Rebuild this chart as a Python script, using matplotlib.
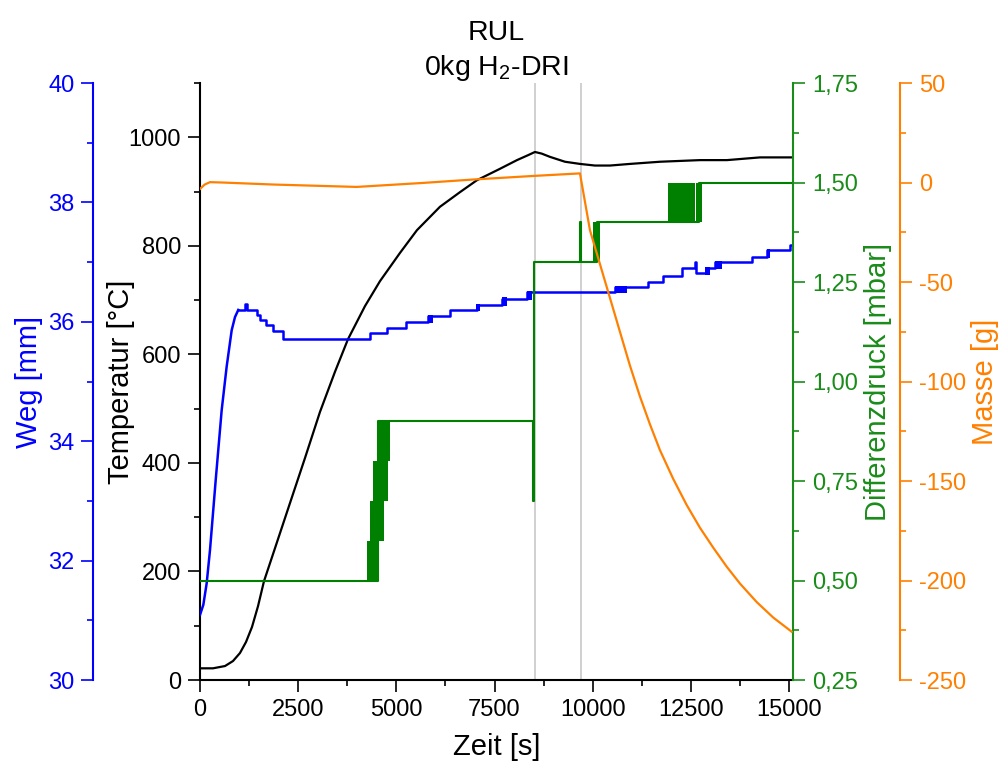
import matplotlib
matplotlib.use('Agg')
import matplotlib.pyplot as plt
import matplotlib.ticker as ticker

plt.rcParams['font.family'] = ['Liberation Sans', 'DejaVu Sans']
plt.rcParams['mathtext.fontset'] = 'custom'
plt.rcParams['mathtext.rm'] = 'Liberation Sans'
plt.rcParams['mathtext.default'] = 'regular'
plt.rcParams['axes.unicode_minus'] = False

# Temperatur (schwarz)
temp_t = [0, 331, 637, 840, 1018, 1171, 1324, 1477, 1629, 1910, 2291, 2673, 3055, 3437,
          3768, 4201, 4583, 5092, 5525, 6110, 6620, 7052, 7638, 8071, 8350, 8529, 8700, 8911, 9293,
          9675, 10057, 10439, 10948, 11712, 12730, 13417, 14258, 15098]
temp_val = [21.6, 21.6, 25.8, 35, 49.8, 70, 97.7, 136, 182, 243, 326, 409, 494, 568,
            628, 689, 735, 787, 829, 872, 899, 921, 942, 958, 967, 973, 970, 964, 955,
            951, 948, 948, 951, 955, 958, 958, 963, 963]

# Weg (blau) - Anstieg und Stufen
weg_rise_t = [0, 85, 170, 255, 400, 552, 679, 807, 891, 975]
weg_rise = [31.09, 31.26, 31.62, 32.18, 33.35, 34.52, 35.25, 35.86, 36.08, 36.2]
weg_step_t = [975, 1140, 1200, 1444, 1527, 1680, 1850, 2105, 4330, 4770, 5245, 5815, 6365,
              7045, 7680, 8317, 10566, 11415, 11797, 12263, 12603, 12620, 12883, 13112,
              14046, 14428, 15020, 15100]
weg_step = [36.2, 36.3, 36.2, 36.12, 36.03, 35.94, 35.84, 35.71, 35.81, 35.89, 36.0, 36.1, 36.2,
            36.28, 36.39, 36.5, 36.58, 36.67, 36.76, 36.9, 37.0, 36.81, 36.9, 37.0,
            37.09, 37.2, 37.29, 37.29]
# schnelle Wechsel zwischen zwei Stufen
weg_band_t0 = [5815, 7027, 7681, 8317, 10566, 12857, 13112, 14428]
weg_band_t1 = [5942, 7129, 7808, 8445, 10863, 12985, 13282, 14512]
weg_band_lo = [36.0, 36.2, 36.28, 36.39, 36.5, 36.81, 36.9, 37.09]
weg_band_hi = [36.1, 36.28, 36.39, 36.5, 36.58, 36.9, 37.0, 37.2]

# Differenzdruck (gruen)
dp_t = [0, 4530, 8485, 8492, 9675, 9690, 10100, 12700, 15100]
dp_val = [0.50, 0.90, 0.70, 1.30, 1.40, 1.30, 1.40, 1.50, 1.50]
dp_band_t0 = [4245, 4330, 4410, 4530, 10015, 11920, 12640]
dp_band_t1 = [4565, 4695, 4785, 4850, 10185, 12600, 12770]
dp_band_lo = [0.5, 0.6, 0.7, 0.8, 1.3, 1.4, 1.4]
dp_band_hi = [0.6, 0.7, 0.8, 0.9, 1.4, 1.5, 1.5]

# Masse (orange)
masse_t = [0, 120, 255, 590, 1870, 3990, 5670, 6940, 8470, 9675, 9930, 10184, 10439, 10693,
           10948, 11202, 11457, 11712, 12051, 12391, 12731, 13069, 13410, 13748, 14174,
           14596, 15065]
masse_val = [-3.2, -1.0, 0.2, 0.0, -1.0, -2.2, -0.2, 1.5, 3.3, 4.6, -24, -41, -58, -75,
             -92, -107.5, -121.5, -134.5, -149, -162, -173.5, -183.5, -193, -201.5, -210.8,
             -218.6, -225.7]

marker_t = [8530, 9700]

c_blue = '#0000FF'
c_green = '#008000'
c_lgreen = '#1a8c1a'
c_orange = '#FF8000'

fig = plt.figure(figsize=(10.06, 7.74), dpi=100)
ax = fig.add_axes([0.1988, 0.1214, 0.5895, 0.7713])

for t in marker_t:
    ax.axvline(t, color='#c8c8c8', lw=1.2, zorder=0)
ax.plot(temp_t, temp_val, color='black', lw=1.6)
ax.set_xlim(0, 15100)
ax.set_ylim(0, 1100)
ax.set_xticks(range(0, 15001, 2500))
ax.xaxis.set_minor_locator(ticker.MultipleLocator(1250))
ax.yaxis.set_major_locator(ticker.MultipleLocator(200))
ax.yaxis.set_minor_locator(ticker.MultipleLocator(100))
ax.spines['top'].set_visible(False)
ax.spines['right'].set_visible(False)
for s in ['left', 'bottom']:
    ax.spines[s].set_linewidth(1.5)
ax.tick_params(which='major', direction='out', length=8.5, width=1.2, labelsize=17, pad=5)
ax.tick_params(which='minor', direction='out', length=4.5, width=1.2)
ax.set_xlabel('Zeit [s]', fontsize=21)
ax.xaxis.set_label_coords(0.5, -0.088)
ax.set_ylabel('Temperatur [°C]', fontsize=21)
ax.yaxis.set_label_coords(-0.11, 0.5)
ax.set_title('RUL\n0kg H$_2$-DRI', fontsize=20.5, pad=4, linespacing=1.3)

# Weg
ax2 = ax.twinx()
ax2.plot(weg_rise_t, weg_rise, color=c_blue, lw=1.8)
ax2.plot(weg_step_t, weg_step, color=c_blue, lw=1.8, drawstyle='steps-post')
for t0, t1, lo, hi in zip(weg_band_t0, weg_band_t1, weg_band_lo, weg_band_hi):
    ax2.fill_between([t0, t1], lo - 0.02, hi + 0.02, color=c_blue, lw=0)
ax2.set_ylim(30, 40)
ax2.yaxis.set_major_locator(ticker.MultipleLocator(2))
ax2.yaxis.set_minor_locator(ticker.MultipleLocator(1))
ax2.yaxis.set_label_position('left')
ax2.yaxis.set_ticks_position('left')
for s in ['top', 'right', 'bottom']:
    ax2.spines[s].set_visible(False)
ax2.spines['left'].set_position(('axes', -0.18))
ax2.spines['left'].set_color(c_blue)
ax2.spines['left'].set_linewidth(1.5)
ax2.tick_params(which='major', direction='out', length=8.5, width=1.2, labelsize=17,
                colors=c_blue, pad=5)
ax2.tick_params(which='minor', direction='out', length=4.5, width=1.2, colors=c_blue)
ax2.set_ylabel('Weg [mm]', fontsize=21, color=c_blue)
ax2.yaxis.set_label_coords(-0.265, 0.5)

# Differenzdruck
ax3 = ax.twinx()
ax3.plot(dp_t, dp_val, color=c_green, lw=1.5, drawstyle='steps-post')
for t0, t1, lo, hi in zip(dp_band_t0, dp_band_t1, dp_band_lo, dp_band_hi):
    ax3.fill_between([t0, t1], lo, hi, color=c_green, lw=0)
ax3.set_ylim(0.25, 1.75)
ax3.yaxis.set_major_locator(ticker.MultipleLocator(0.25))
ax3.yaxis.set_minor_locator(ticker.MultipleLocator(0.125))
ax3.yaxis.set_major_formatter(ticker.FuncFormatter(lambda v, p: f'{v:.2f}'.replace('.', ',')))
for s in ['top', 'left', 'bottom']:
    ax3.spines[s].set_visible(False)
ax3.spines['right'].set_color(c_lgreen)
ax3.spines['right'].set_linewidth(1.5)
ax3.tick_params(which='major', direction='out', length=8.5, width=1.2, labelsize=17,
                colors=c_lgreen, pad=5)
ax3.tick_params(which='minor', direction='out', length=4.5, width=1.2, colors=c_lgreen)
ax3.set_ylabel('Differenzdruck [mbar]', fontsize=21, color=c_lgreen)
ax3.yaxis.set_label_coords(1.12, 0.5)

# Masse
ax4 = ax.twinx()
ax4.plot(masse_t, masse_val, color=c_orange, lw=1.6)
ax4.set_ylim(-250, 50)
ax4.yaxis.set_major_locator(ticker.MultipleLocator(50))
ax4.yaxis.set_minor_locator(ticker.MultipleLocator(25))
for s in ['top', 'left', 'bottom']:
    ax4.spines[s].set_visible(False)
ax4.spines['right'].set_position(('axes', 1.1804))
ax4.spines['right'].set_color(c_orange)
ax4.spines['right'].set_linewidth(1.5)
ax4.tick_params(which='major', direction='out', length=8.5, width=1.2, labelsize=17,
                colors=c_orange, pad=5)
ax4.tick_params(which='minor', direction='out', length=4.5, width=1.2, colors=c_orange)
ax4.set_ylabel('Masse [g]', fontsize=21, color=c_orange)
ax4.yaxis.set_label_coords(1.30, 0.5)

fig.savefig('out.png', dpi=100)
